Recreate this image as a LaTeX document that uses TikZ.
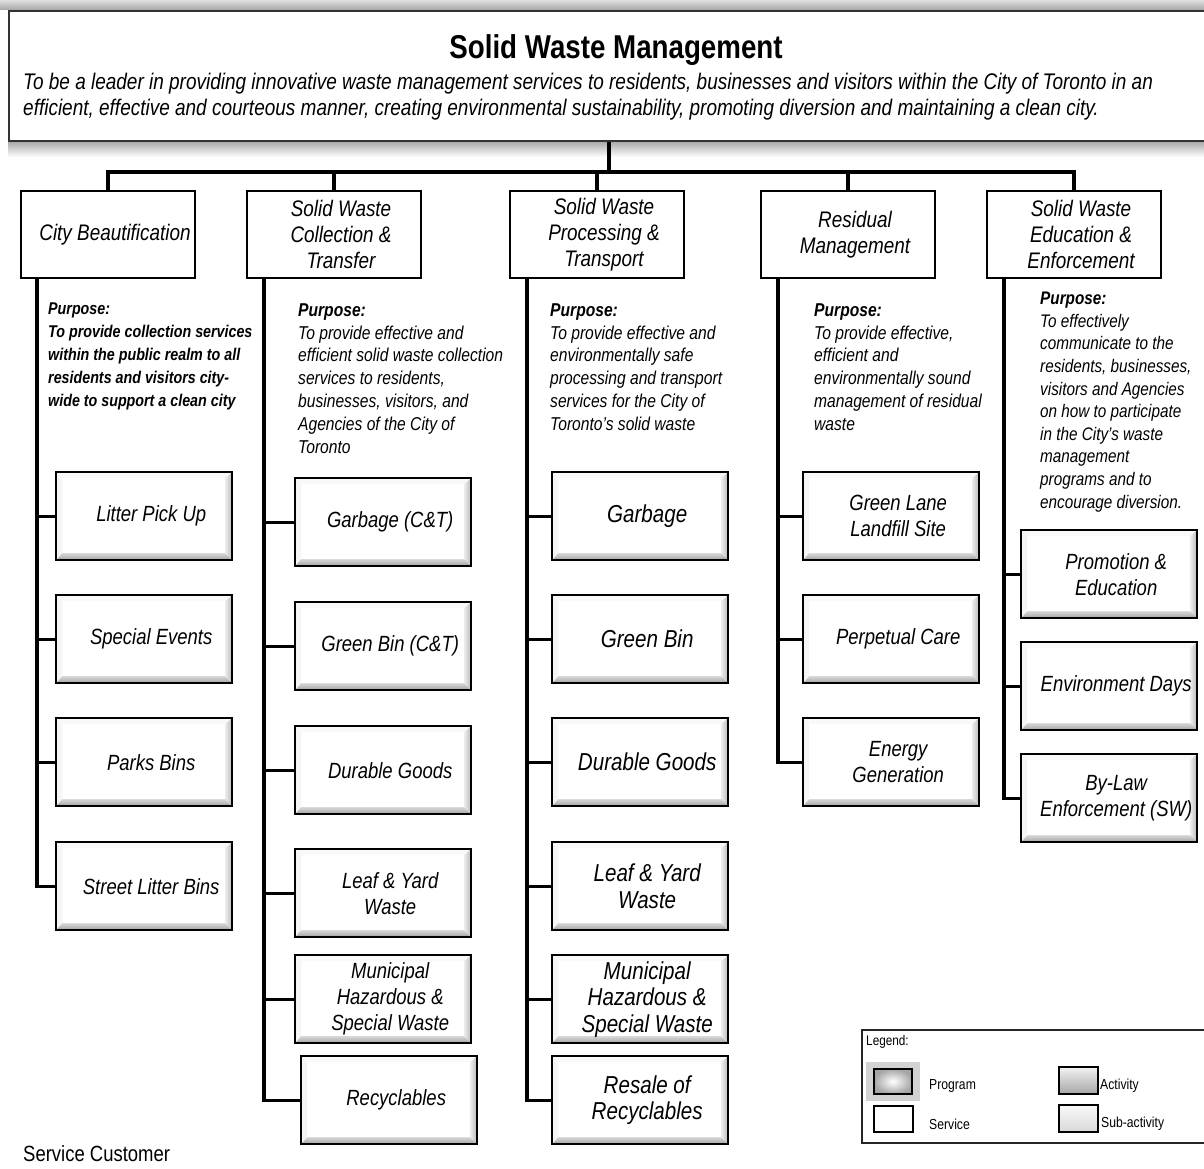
\documentclass[tikz,border=0pt]{standalone}
\usepackage{fontspec}
\setmainfont{Liberation Sans}[FakeStretch=0.84]
\usetikzlibrary{positioning}
% nudge box text a little to the right, as in the original chart
\newcommand{\tsh}{\hspace*{14pt}}

\begin{document}
\begin{tikzpicture}[x=1pt, y=-1pt, >=latex]
        \tikzstyle{link}=[line width=3.2pt, black];
        \tikzstyle{prog}=[draw, line width=2pt, fill=white, anchor=north west, minimum width=174pt, minimum height=87pt, inner sep=0pt, align=center, font=\fontsize{22.5}{26}\selectfont\itshape];
        \tikzstyle{purpose}=[anchor=north west, inner sep=0pt, align=left, font=\fontsize{18.6}{23}\selectfont\itshape];
        \tikzstyle{act}=[draw, line width=2.4pt, fill=white, anchor=north west, minimum width=176pt, minimum height=88pt, inner sep=0pt, align=center, font=\fontsize{22}{26}\selectfont\itshape,
            path picture={
                \path (path picture bounding box.south west) coordinate (bl) (path picture bounding box.north east) coordinate (tr);
                \fill[gray!5] (bl |- tr) -- (tr) -- ([shift={(-6pt,-6pt)}]tr) -- ([shift={(6pt,-6pt)}]bl |- tr) -- cycle;
                \fill[gray!8] (bl) -- (bl |- tr) -- ([shift={(6pt,-6pt)}]bl |- tr) -- ([shift={(6pt,7pt)}]bl) -- cycle;
                \shade[left color=gray!15, right color=gray!55] (tr) -- (tr |- bl) -- ([shift={(-7pt,7pt)}]tr |- bl) -- ([shift={(-7pt,-6pt)}]tr) -- cycle;
                \shade[top color=gray!30, bottom color=gray!75] (bl) -- (tr |- bl) -- ([shift={(-7pt,7pt)}]tr |- bl) -- ([shift={(6pt,7pt)}]bl) -- cycle;
            }];
        \tikzstyle{big}=[font=\fontsize{24.5}{26.5}\selectfont\itshape];

        \useasboundingbox (0,0) rectangle (1204,1169);

        % header
        \shade[top color=gray!25, bottom color=gray!70] (0,0) rectangle (1204,10);
        \shade[top color=gray!70, bottom color=white] (8,141) rectangle (1204,157);
        \node[draw=black!80, line width=1.6pt, fill=white, anchor=north west, minimum width=1210pt, minimum height=130pt, inner sep=0pt] (head) at (8,10) {};
        \node[font=\fontsize{33}{36}\selectfont\bfseries] (title) at (616,50) {Solid Waste Management};
        \node[anchor=north west, inner sep=0pt, align=left, font=\fontsize{22.6}{26}\selectfont\itshape] (mission) at (23,73)
            {To be a leader in providing innovative waste management services to residents, businesses and visitors within the City of Toronto in an\\
             efficient, effective and courteous manner, creating environmental sustainability, promoting diversion and maintaining a clean city.};

        % programs
        \node[prog] (cb) at (20,190) {\tsh City Beautification};
        \node[prog] (swct) at (246,190) {\tsh Solid Waste\\\tsh Collection \&\\\tsh Transfer};
        \node[prog] (swpt) at (509,190) {\tsh Solid Waste\\\tsh Processing \&\\\tsh Transport};
        \node[prog] (rm) at (760,190) {\tsh Residual\\\tsh Management};
        \node[prog] (swee) at (986,190) {\tsh Solid Waste\\\tsh Education \&\\\tsh Enforcement};

        \coordinate (bus) at (609,172);
        \draw[link] (bus |- head.south) -- (bus);
        \draw[link] (cb.north) |- (bus) -| (swee.north);
        \foreach \p in {swct,swpt,rm}
            \draw[link] (\p.north) -- (\p.north |- bus);

        % purposes
        \node[purpose, font=\fontsize{17}{23}\selectfont\bfseries\itshape] (pcb) at (48,303)
            {Purpose:\\To provide collection services\\within the public realm to all\\residents and visitors city-\\wide to support a clean city};
        \node[purpose] (pswct) at (298,303)
            {\textbf{Purpose:}\\To provide effective and\\efficient solid waste collection\\services to residents,\\businesses, visitors, and\\Agencies of the City of\\Toronto};
        \node[purpose] (pswpt) at (550,303)
            {\textbf{Purpose:}\\To provide effective and\\environmentally safe\\processing and transport\\services for the City of\\Toronto's solid waste};
        \node[purpose] (prm) at (814,303)
            {\textbf{Purpose:}\\To provide effective,\\efficient and\\environmentally sound\\management of residual\\waste};
        \node[purpose, font=\fontsize{18.2}{22.6}\selectfont\itshape] (pswee) at (1040,292)
            {\textbf{Purpose:}\\To effectively\\communicate to the\\residents, businesses,\\visitors and Agencies\\on how to participate\\in the City's waste\\management\\programs and to\\encourage diversion.};

        % activities: city beautification
        \node[act] (lpu) at (55,471) {\tsh Litter Pick Up};
        \node[act] (se) at (55,594) {\tsh Special Events};
        \node[act] (pb) at (55,717) {\tsh Parks Bins};
        \node[act] (slb) at (55,841) {\tsh Street Litter Bins};

        % activities: collection & transfer
        \node[act] (gct) at (294,477) {\tsh Garbage (C\&T)};
        \node[act] (gbct) at (294,601) {\tsh Green Bin (C\&T)};
        \node[act] (dgct) at (294,725) {\tsh Durable Goods};
        \node[act] (lyct) at (294,848) {\tsh Leaf \& Yard\\\tsh Waste};
        \node[act] (mhct) at (294,954) {\tsh Municipal\\\tsh Hazardous \&\\\tsh Special Waste};
        \node[act] (recct) at (300,1055) {\tsh Recyclables};

        % activities: processing & transport
        \node[act, big] (gpt) at (551,471) {\tsh Garbage};
        \node[act, big] (gbpt) at (551,594) {\tsh Green Bin};
        \node[act, big] (dgpt) at (551,717) {\tsh Durable Goods};
        \node[act, big] (lypt) at (551,841) {\tsh Leaf \& Yard\\\tsh Waste};
        \node[act, big] (mhpt) at (551,954) {\tsh Municipal\\\tsh Hazardous \&\\\tsh Special Waste};
        \node[act, big] (rrpt) at (551,1055) {\tsh Resale of\\\tsh Recyclables};

        % activities: residual management
        \node[act] (gll) at (802,471) {\tsh Green Lane\\\tsh Landfill Site};
        \node[act] (pc) at (802,594) {\tsh Perpetual Care};
        \node[act] (eg) at (802,717) {\tsh Energy\\\tsh Generation};

        % activities: education & enforcement
        \node[act] (pe) at (1020,529) {\tsh Promotion \&\\\tsh Education};
        \node[act] (ed) at (1020,641) {\tsh Environment Days};
        \node[act] (ble) at (1020,753) {\tsh By-Law\\\tsh Enforcement (SW)};

        % spines
        \foreach \a in {lpu,se,pb,slb}
            \draw[link] ([xshift=17pt]cb.south west) |- (\a.west);
        \foreach \a in {gct,gbct,dgct,lyct,mhct,recct}
            \draw[link] ([xshift=18pt]swct.south west) |- (\a.west);
        \foreach \a in {gpt,gbpt,dgpt,lypt,mhpt,rrpt}
            \draw[link] ([xshift=18pt]swpt.south west) |- (\a.west);
        \foreach \a in {gll,pc,eg}
            \draw[link] ([xshift=18pt]rm.south west) |- (\a.west);
        \foreach \a in {pe,ed,ble}
            \draw[link] ([xshift=18pt]swee.south west) |- (\a.west);

        % legend
        \draw[line width=1.4pt, black!85] (862,1030) rectangle (1215,1143);
        \node[anchor=west, inner sep=0pt, font=\fontsize{14}{16}\selectfont] (leg) at (866,1042) {Legend:};
        \fill[gray!35] (866,1062) rectangle (920,1101);
        \shade[inner color=white, outer color=gray!70, draw=black, line width=2pt] (874,1069) rectangle (912,1094);
        \node[anchor=west, inner sep=0pt, font=\fontsize{14.5}{16}\selectfont] (lprog) at (929,1086) {Program};
        \draw[line width=1.6pt, fill=white] (874,1106) rectangle (913,1132);
        \node[anchor=west, inner sep=0pt, font=\fontsize{14.5}{16}\selectfont] (lserv) at (929,1124) {Service};
        \shade[top color=gray!10, bottom color=gray!70, draw=black, line width=2pt] (1059,1067) rectangle (1098,1094);
        \node[anchor=west, inner sep=0pt, font=\fontsize{14.5}{16}\selectfont] (lact) at (1100,1086) {Activity};
        \shade[top color=gray!5, bottom color=gray!30, draw=black, line width=2pt] (1059,1105) rectangle (1098,1132);
        \node[anchor=west, inner sep=0pt, font=\fontsize{14.5}{16}\selectfont] (lsub) at (1101,1124) {Sub-activity};

        \node[anchor=west, inner sep=0pt, font=\fontsize{22}{24}\selectfont] (cust) at (23,1154) {Service Customer};
\end{tikzpicture}
\end{document}
